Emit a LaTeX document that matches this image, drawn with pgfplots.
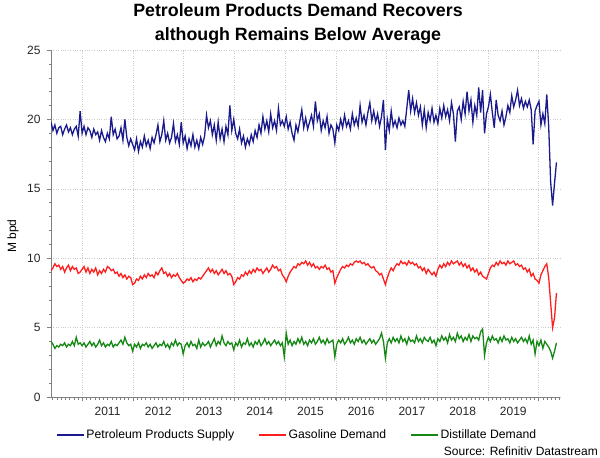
\documentclass[border=0pt]{standalone}
\usepackage{fontspec}
\setmainfont{Liberation Sans}
\usepackage{pgfplots}
\pgfplotsset{compat=1.18}
\usepackage{pgfplotstable}

\definecolor{supply}{RGB}{26,26,140}
\definecolor{gasoline}{RGB}{255,30,30}
\definecolor{distillate}{RGB}{20,135,20}
\definecolor{axisgray}{RGB}{128,128,128}

% biweekly values, first point mid-May 2010
\pgfplotstableread[row sep=\\]{
v\\
19.8\\19.2\\19.6\\19.0\\19.4\\19.5\\18.9\\19.3\\19.6\\19.1\\19.4\\18.9\\19.3\\19.5\\18.8\\20.6\\
19.0\\19.5\\18.9\\19.4\\19.2\\18.7\\19.3\\18.9\\19.1\\18.5\\19.2\\18.7\\18.4\\19.0\\18.6\\20.2\\18.9\\19.3\\18.6\\18.8\\19.4\\18.5\\20.0\\18.7\\18.1\\18.6\\
18.2\\17.8\\18.6\\17.7\\18.4\\18.0\\18.8\\18.1\\18.5\\17.9\\18.7\\18.3\\18.9\\19.6\\18.4\\18.9\\19.9\\18.5\\19.0\\18.3\\18.7\\19.7\\18.4\\18.9\\18.2\\19.8\\
18.3\\18.8\\17.9\\18.6\\18.1\\18.9\\18.0\\18.5\\17.9\\18.7\\18.2\\18.8\\20.3\\19.4\\19.9\\18.9\\19.6\\18.5\\19.8\\18.6\\19.3\\18.4\\19.5\\18.9\\21.0\\19.2\\
20.0\\19.0\\18.6\\19.3\\18.3\\18.8\\18.0\\18.6\\18.2\\18.9\\18.4\\19.2\\18.7\\19.6\\19.0\\20.2\\19.3\\19.9\\19.1\\20.4\\19.4\\19.9\\19.2\\20.8\\19.6\\19.9\\
19.5\\20.2\\19.3\\19.8\\19.0\\18.5\\19.6\\19.1\\19.9\\20.7\\19.4\\20.1\\19.3\\19.8\\20.3\\19.5\\21.3\\19.9\\20.4\\19.2\\19.9\\19.4\\20.2\\19.0\\19.6\\19.3\\
18.3\\19.6\\19.2\\20.0\\19.4\\20.3\\19.5\\19.9\\19.3\\20.4\\19.6\\20.1\\19.5\\21.0\\19.8\\20.3\\19.6\\20.5\\21.2\\19.9\\20.6\\19.8\\20.4\\19.5\\20.2\\21.4\\
17.8\\20.0\\19.2\\20.6\\19.5\\19.9\\19.4\\20.1\\19.6\\19.9\\19.5\\20.8\\22.1\\20.6\\21.5\\20.5\\21.2\\20.3\\20.9\\19.6\\20.7\\19.4\\20.5\\19.9\\20.8\\19.8\\
20.3\\19.7\\20.8\\20.1\\21.0\\20.2\\20.7\\19.9\\21.2\\20.4\\18.4\\20.6\\20.9\\20.0\\21.3\\20.4\\22.0\\20.6\\21.4\\19.8\\21.0\\20.3\\22.3\\20.5\\22.1\\19.0\\
20.4\\20.9\\21.8\\20.5\\19.4\\21.4\\20.3\\19.9\\20.6\\19.6\\20.2\\21.0\\20.5\\21.7\\20.9\\21.4\\22.1\\21.0\\21.5\\20.8\\21.3\\20.9\\21.4\\20.7\\18.2\\20.6\\21.0\\
21.3\\19.6\\20.4\\19.7\\21.8\\19.5\\15.5\\13.8\\15.4\\16.9\\
}\tblsupply

\pgfplotstableread[row sep=\\]{
v\\
9.1\\9.3\\9.6\\9.4\\9.5\\9.2\\9.4\\9.0\\9.3\\9.5\\9.1\\9.4\\9.2\\9.3\\8.9\\9.0\\
9.2\\9.4\\9.0\\9.3\\8.9\\9.2\\9.0\\9.3\\8.8\\9.1\\8.9\\9.2\\9.0\\9.4\\9.3\\9.1\\9.2\\8.9\\9.0\\8.7\\8.9\\8.6\\8.8\\8.5\\8.7\\8.6\\
8.1\\8.2\\8.5\\8.4\\8.7\\8.5\\8.8\\8.6\\8.9\\8.7\\8.8\\8.6\\9.0\\8.8\\9.1\\9.3\\8.9\\9.0\\8.7\\8.9\\8.6\\8.8\\8.7\\8.9\\8.6\\8.4\\
8.2\\8.3\\8.5\\8.4\\8.6\\8.3\\8.5\\8.4\\8.6\\8.5\\8.7\\8.9\\9.1\\9.3\\9.0\\9.2\\8.9\\9.1\\8.8\\9.0\\9.2\\8.9\\9.1\\8.8\\8.9\\8.7\\
8.1\\8.3\\8.6\\8.5\\8.8\\8.7\\9.0\\8.8\\9.1\\8.9\\9.2\\9.0\\9.3\\9.1\\9.2\\8.9\\9.1\\9.3\\9.0\\9.2\\9.5\\9.3\\9.4\\9.1\\9.2\\8.8\\
8.6\\8.3\\8.7\\9.0\\9.2\\9.4\\9.3\\9.6\\9.5\\9.7\\9.6\\9.8\\9.5\\9.7\\9.4\\9.6\\9.3\\9.4\\9.2\\9.4\\9.3\\9.5\\9.2\\9.3\\9.0\\9.1\\
8.2\\8.6\\8.9\\9.2\\9.4\\9.3\\9.5\\9.4\\9.6\\9.5\\9.7\\9.8\\9.7\\9.8\\9.6\\9.7\\9.5\\9.6\\9.4\\9.3\\9.4\\9.1\\9.0\\8.8\\8.9\\8.5\\
8.1\\8.6\\9.0\\9.3\\9.1\\9.4\\9.6\\9.5\\9.8\\9.6\\9.7\\9.5\\9.8\\9.6\\9.7\\9.5\\9.6\\9.3\\9.4\\9.1\\9.3\\8.9\\9.2\\9.0\\8.8\\9.0\\
8.7\\9.2\\9.5\\9.3\\9.6\\9.4\\9.7\\9.5\\9.8\\9.6\\9.7\\9.8\\9.5\\9.7\\9.4\\9.6\\9.3\\9.5\\9.1\\9.3\\9.0\\9.2\\8.8\\9.0\\8.7\\8.6\\
8.5\\8.9\\9.3\\9.5\\9.4\\9.7\\9.5\\9.8\\9.6\\9.7\\9.5\\9.8\\9.6\\9.7\\9.8\\9.5\\9.6\\9.4\\9.5\\9.2\\9.3\\9.0\\9.2\\8.7\\8.9\\8.5\\8.4\\
8.2\\8.8\\9.1\\9.4\\9.6\\8.6\\6.8\\5.0\\5.7\\7.5\\
}\tblgasoline

\pgfplotstableread[row sep=\\]{
v\\
4.0\\3.8\\3.5\\3.7\\3.6\\3.8\\3.7\\3.9\\3.6\\3.8\\3.7\\4.0\\3.7\\4.3\\3.8\\3.9\\
3.7\\3.9\\3.6\\3.8\\4.0\\3.7\\3.9\\3.6\\3.8\\4.1\\3.7\\3.9\\3.6\\3.8\\3.7\\4.0\\3.6\\3.8\\3.7\\3.9\\4.1\\3.8\\4.3\\3.9\\3.7\\3.8\\
3.3\\3.8\\3.6\\3.9\\3.5\\3.8\\3.7\\3.9\\3.6\\3.8\\3.5\\3.7\\3.9\\3.6\\3.8\\3.7\\4.0\\3.6\\3.8\\3.5\\3.9\\3.7\\4.1\\3.7\\3.9\\3.8\\
3.1\\3.7\\3.9\\3.6\\4.0\\3.7\\3.8\\3.5\\4.1\\3.6\\3.9\\3.7\\3.8\\4.0\\3.6\\3.9\\4.2\\3.7\\4.0\\3.8\\4.4\\3.9\\3.7\\4.0\\3.8\\3.9\\
3.4\\3.9\\3.7\\4.1\\3.6\\3.9\\3.8\\4.2\\3.7\\3.9\\3.6\\4.0\\3.8\\4.1\\3.7\\3.9\\4.2\\3.8\\4.0\\3.7\\3.9\\4.1\\3.8\\4.0\\3.7\\3.9\\
2.9\\4.6\\3.8\\4.1\\3.7\\4.0\\3.8\\4.2\\3.9\\4.3\\3.8\\4.0\\3.7\\4.1\\3.9\\4.2\\3.8\\4.0\\4.3\\3.9\\4.1\\3.8\\4.2\\3.9\\4.0\\4.1\\
2.9\\3.8\\4.1\\3.9\\4.2\\3.8\\4.0\\4.3\\3.9\\4.1\\3.8\\4.2\\4.0\\4.3\\3.9\\4.1\\3.8\\4.0\\4.2\\3.9\\4.1\\3.8\\4.0\\4.2\\4.6\\4.0\\
2.8\\3.9\\4.2\\3.9\\4.3\\4.0\\4.2\\3.9\\4.4\\4.0\\4.2\\3.8\\4.3\\4.0\\4.1\\3.9\\4.4\\4.0\\4.2\\3.9\\4.3\\4.1\\4.0\\4.3\\3.9\\4.1\\
3.7\\4.2\\4.0\\4.4\\4.1\\4.3\\3.9\\4.5\\4.1\\4.3\\4.0\\4.6\\4.2\\4.4\\4.0\\4.3\\4.1\\4.5\\4.0\\4.4\\4.2\\4.3\\4.1\\4.7\\4.9\\3.0\\
3.9\\4.3\\4.0\\4.4\\4.1\\4.2\\3.9\\4.3\\4.0\\4.4\\4.1\\4.2\\3.9\\4.3\\4.0\\4.2\\3.9\\4.1\\4.3\\4.0\\4.2\\3.9\\4.4\\3.8\\4.1\\3.1\\4.0\\
3.7\\4.1\\3.5\\4.0\\3.8\\3.6\\3.3\\2.8\\3.3\\3.9\\
}\tbldistillate

\begin{document}
\begin{tikzpicture}
\useasboundingbox (0,0) rectangle (600pt,458pt);
\begin{axis}[
    at={(51pt,61pt)}, anchor=south west,
    width=509pt, height=347pt, scale only axis,
    xmin=2010.385, xmax=2020.42, ymin=0, ymax=25,
    axis lines*=left, axis line style={-, axisgray},
    xtick={2011,...,2020}, xticklabels={},
    extra x ticks={2011.5,2012.5,...,2019.5},
    extra x tick labels={2011,2012,2013,2014,2015,2016,2017,2018,2019},
    extra x tick style={grid=none, major tick length=0pt},
    minor xtick={2010.41667,2010.5,...,2020.42},
    ytick={0,5,...,25}, minor y tick num=4,
    tick align=outside, major tick length=4pt, minor tick length=2.5pt,
    tick style={axisgray, thin},
    grid=major, grid style={dotted, gray!40},
    tick label style={font=\fontsize{12}{14}\selectfont, text=black!85},
    xticklabel style={yshift=-7pt},
    yticklabel style={xshift=-3pt},
    /pgf/number format/assume math mode=true,
    legend columns=3,
    legend cell align=left,
    legend image code/.code={\draw[#1] (0pt,0pt) -- (27pt,0pt);},
    legend style={at={(axis description cs:0.0098,-0.1095)}, anchor=west,
        draw=none, fill=none, inner sep=0pt,
        font=\fontsize{12.2}{14}\selectfont,
        /tikz/every even column/.append style={column sep=22pt}},
]
\addplot[supply, line width=1.3pt] table[x expr=2010.385+\coordindex/26.09, y=v] {\tblsupply};
\addplot[gasoline, line width=1.3pt] table[x expr=2010.385+\coordindex/26.09, y=v] {\tblgasoline};
\addplot[distillate, line width=1.3pt] table[x expr=2010.385+\coordindex/26.09, y=v] {\tbldistillate};
\legend{Petroleum Products Supply, Gasoline Demand, Distillate Demand}
\end{axis}
\node[anchor=base, font=\bfseries\fontsize{17.8}{21}\selectfont] at (298pt,441pt) {Petroleum Products Demand Recovers};
\node[anchor=base, font=\bfseries\fontsize{17.8}{21}\selectfont] at (298pt,417pt) {although Remains Below Average};
\node[rotate=90, font=\fontsize{12}{14}\selectfont] at (13pt,222pt) {M bpd};
\node[anchor=base east, font=\fontsize{12}{14}\selectfont, inner sep=0pt] at (598pt,2pt) {Source: Refinitiv Datastream};
\end{tikzpicture}
\end{document}
